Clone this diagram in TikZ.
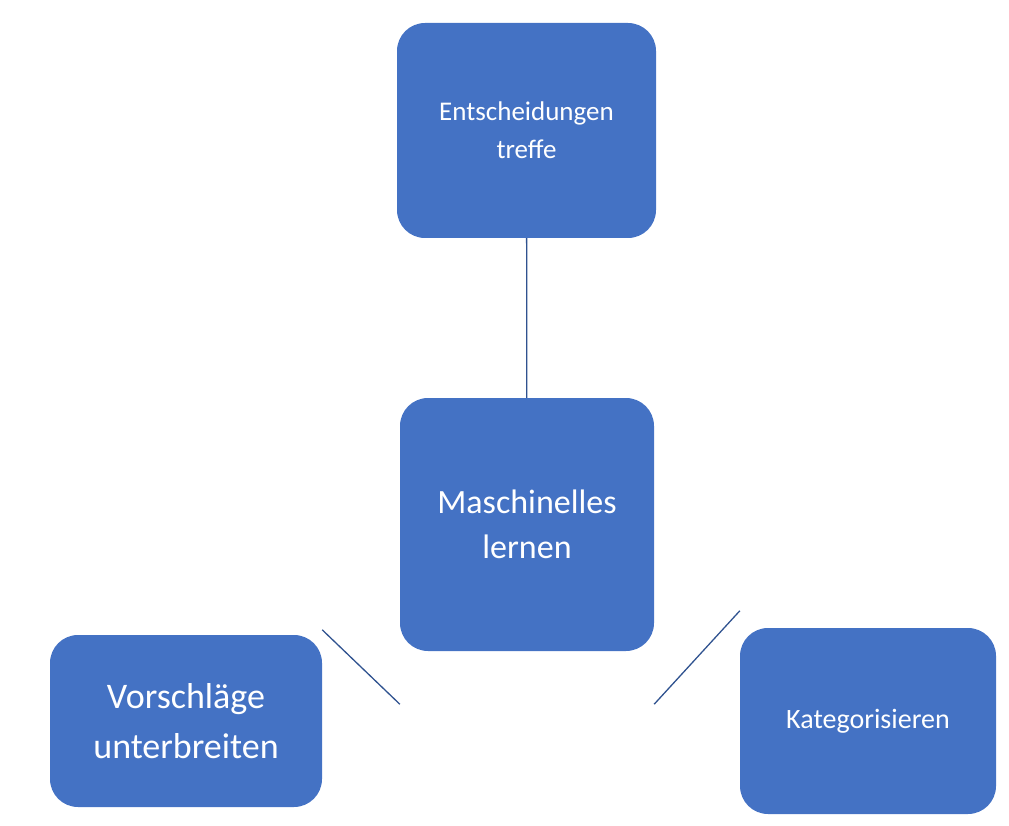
\documentclass[tikz,border=0pt]{standalone}
\usepackage{fontspec}
\setmainfont{Carlito}
\definecolor{boxblue}{HTML}{4472C4}
\definecolor{lineblue}{HTML}{2F528F}
\begin{document}
\begin{tikzpicture}[x=1pt, y=-1pt]
  \tikzset{
    topic/.style={
      rectangle,
      rounded corners=28pt,
      fill=boxblue,
      text=white,
      align=center,
      inner sep=0pt
    },
    link/.style={
      draw=lineblue,
      line width=1.3pt
    }
  }
  \useasboundingbox (0,0) rectangle (1009,826);

  \node [topic, minimum width=259pt, minimum height=215pt,
         font=\fontsize{27}{38}\selectfont] (decide) at (526.5,130.5)
    {Entscheidungen\\treffe};
  \node [topic, minimum width=254pt, minimum height=253pt,
         font=\fontsize{34}{45}\selectfont] (ml) at (527,524.5)
    {Maschinelles\\lernen};
  \node [topic, minimum width=272pt, minimum height=172pt,
         font=\fontsize{36}{50}\selectfont] (suggest) at (186,721)
    {Vorschläge\\unterbreiten};
  \node [topic, minimum width=256pt, minimum height=186pt,
         font=\fontsize{28}{36}\selectfont] (classify) at (868,721)
    {Kategorisieren};

  \draw [link] (decide) -- (ml);
  \draw [link] ([yshift=-53pt]ml.south west) -- ([yshift=5pt]suggest.north east);
  \draw [link] ([yshift=-53pt]ml.south east) -- ([yshift=17pt]classify.north west);
\end{tikzpicture}
\end{document}
